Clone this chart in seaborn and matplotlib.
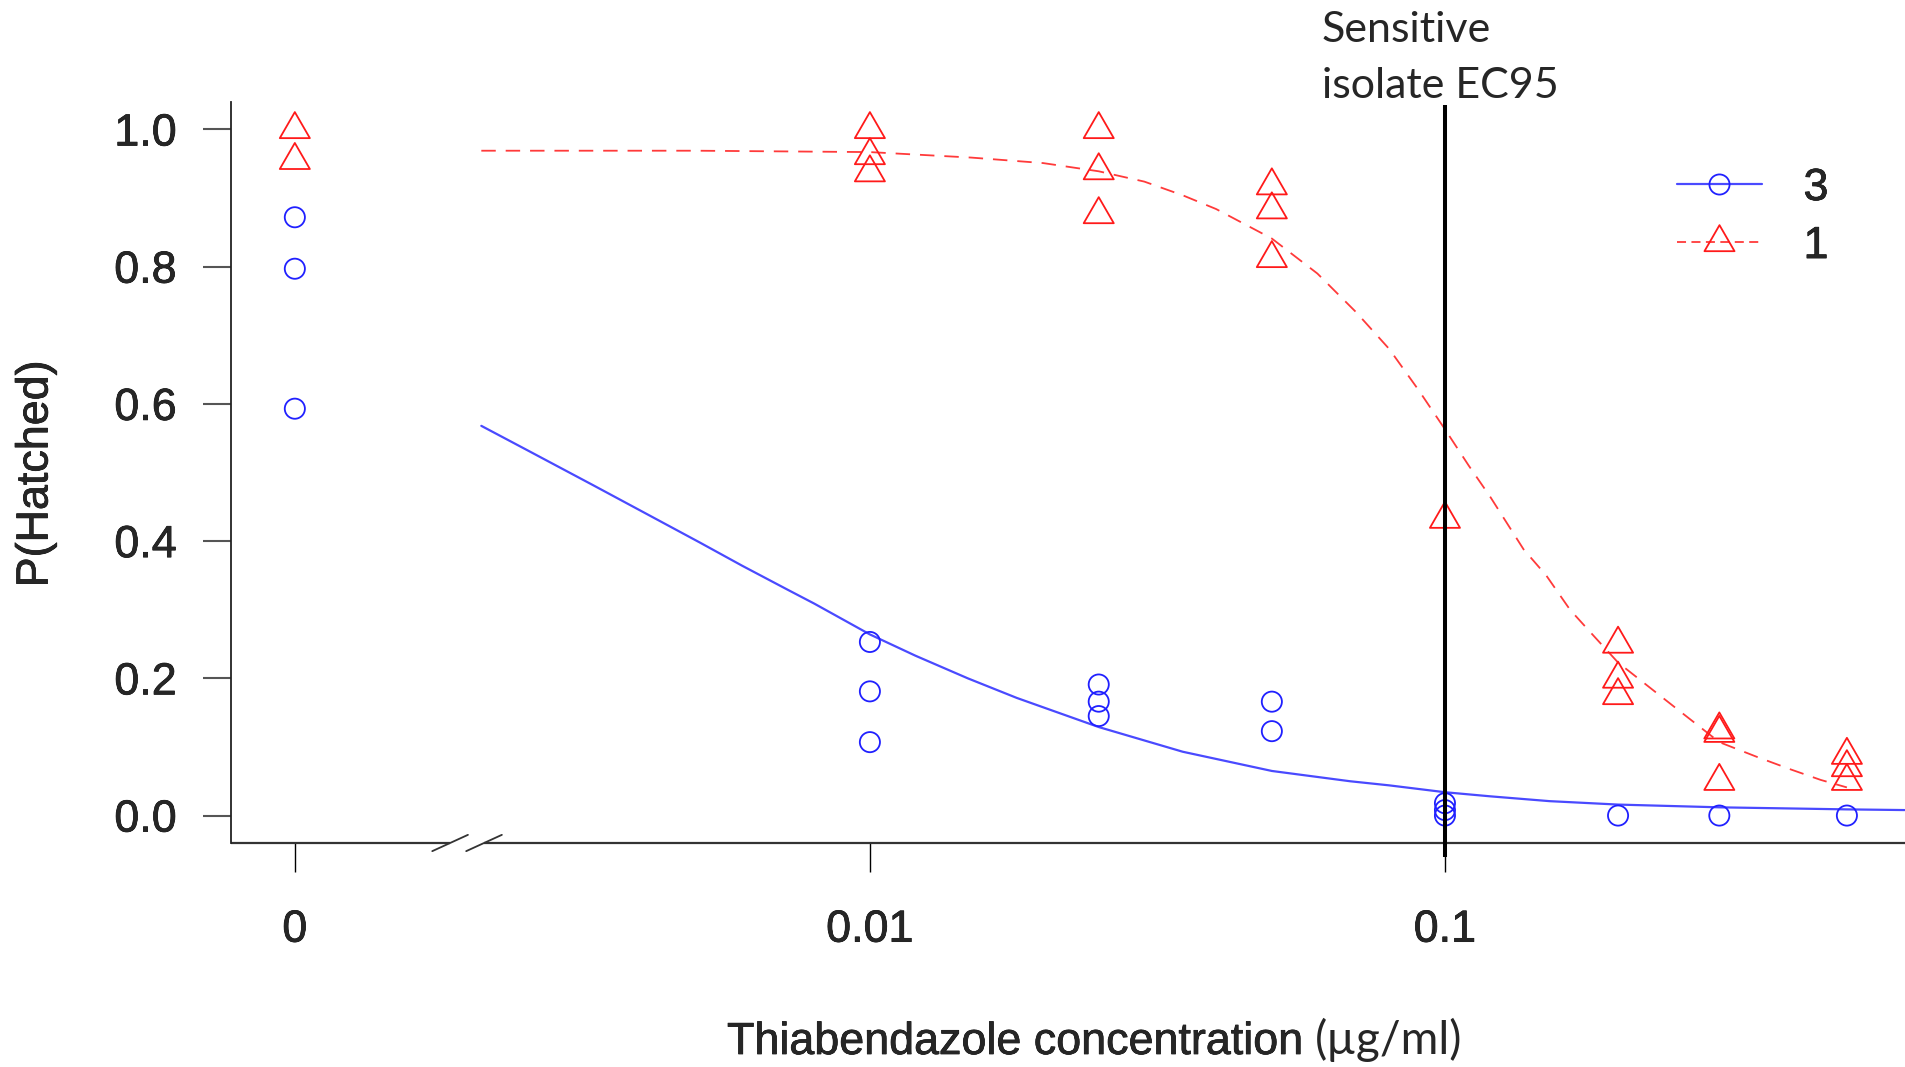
import numpy as np
import pandas as pd
import matplotlib
matplotlib.use("Agg")
import matplotlib.pyplot as plt
import matplotlib.patheffects as pe
from matplotlib.path import Path
from matplotlib.lines import Line2D
from matplotlib.ticker import NullLocator
import seaborn as sns

# ---- data ----------------------------------------------------------------
# isolate 3 (blue circles), dose in ug/ml, proportion hatched
iso3_dose = [0, 0, 0, 0.01, 0.01, 0.01, 0.025, 0.025, 0.025, 0.05, 0.05,
             0.1, 0.1, 0.1, 0.2, 0.3, 0.5]
iso3_hatch = [0.872, 0.797, 0.593, 0.253, 0.181, 0.107, 0.191, 0.166, 0.145,
              0.166, 0.123, 0.018, 0.008, 0.0, 0.0, 0.0, 0.0]

# isolate 1 (red triangles)
iso1_dose = [0, 0, 0.01, 0.01, 0.01, 0.025, 0.025, 0.025, 0.05, 0.05, 0.05,
             0.1, 0.2, 0.2, 0.2, 0.3, 0.3, 0.3, 0.5, 0.5, 0.5]
iso1_hatch = [1.0, 0.955, 1.0, 0.962, 0.937, 1.0, 0.94, 0.876, 0.918, 0.883,
              0.812, 0.432, 0.25, 0.199, 0.175, 0.125, 0.12, 0.05, 0.088,
              0.07, 0.05]

# fitted dose-response curves
curve3_dose = [0.00211, 0.00253, 0.00331, 0.004, 0.00506, 0.006, 0.0072,
               0.008, 0.01, 0.012, 0.0148, 0.018, 0.025, 0.035, 0.05,
               0.0684, 0.08, 0.1, 0.12, 0.152, 0.2, 0.3, 0.5, 0.63]
curve3_p = [0.568, 0.533, 0.481, 0.444, 0.398, 0.364, 0.329, 0.309, 0.264,
            0.233, 0.200, 0.1715, 0.129, 0.093, 0.065, 0.05, 0.044, 0.034,
            0.028, 0.021, 0.016, 0.012, 0.009, 0.008]

curve1_dose = [0.00211, 0.005, 0.01, 0.015, 0.02, 0.025, 0.03, 0.035, 0.04,
               0.05, 0.06, 0.07, 0.08, 0.09, 0.1, 0.11, 0.12, 0.137, 0.15,
               0.165, 0.18, 0.2, 0.25, 0.3, 0.35, 0.4, 0.45, 0.5]
curve1_p = [0.969, 0.969, 0.967, 0.959, 0.951, 0.939, 0.924, 0.904, 0.884,
            0.841, 0.79, 0.734, 0.68, 0.62, 0.563, 0.51, 0.464, 0.388, 0.35,
            0.30, 0.265, 0.223, 0.159, 0.107, 0.085, 0.067, 0.052, 0.041]

x_ticks = [0, 0.01, 0.1]
x_ticklabels = ["0", "0.01", "0.1"]
y_ticks = [0.0, 0.2, 0.4, 0.6, 0.8, 1.0]
legend_labels = ["3", "1"]
ec95 = 0.1
zero_pos = 0.001   # where dose 0 sits on the broken log axis

# ---- styling ----------------------------------------------------------------
sns.set_style("white")
plt.rcParams["font.family"] = ["Liberation Sans", "DejaVu Sans"]
BLUE_PT = "#2020ff"
BLUE_LN = "#4a4aff"
RED_PT = "#ff1a1a"
RED_LN = "#ff3a3a"
FS = 32.3
heavy = [pe.Stroke(linewidth=0.5, foreground="black"), pe.Normal()]

# R-style open triangle (pch = 2), centred like R does it
tri = Path([(0, 1.555), (1.347, -0.778), (-1.347, -0.778), (0, 1.555)],
           [Path.MOVETO, Path.LINETO, Path.LINETO, Path.CLOSEPOLY])

df3 = pd.DataFrame({"dose": iso3_dose, "p": iso3_hatch})
df1 = pd.DataFrame({"dose": iso1_dose, "p": iso1_hatch})
for d in (df3, df1):
    d["xpos"] = d["dose"].where(d["dose"] > 0, zero_pos)

W, H = 1905, 1067
fig = plt.figure(figsize=(W / 100, H / 100), dpi=100)
ax = fig.add_axes([231 / W, 1 - 843 / H, (W - 231) / W, (843 - 102) / H])
ax.set_xscale("log")

sns.lineplot(x=curve3_dose, y=curve3_p, color=BLUE_LN, lw=1.6, ax=ax)
sns.lineplot(x=curve1_dose, y=curve1_p, color=RED_LN, lw=1.3,
             linestyle=(0, (8, 5.5)), ax=ax)

sns.scatterplot(data=df3, x="xpos", y="p", marker="o", s=14.5 ** 2,
                color=BLUE_PT, facecolor="none", edgecolor=BLUE_PT,
                linewidth=1.3, ax=ax, zorder=3)
sns.scatterplot(data=df1, x="xpos", y="p", marker=tri, s=25 ** 2,
                color=RED_PT, facecolor="none", edgecolor=RED_PT,
                linewidth=1.3, ax=ax, zorder=3)

ax.set_xlim(10 ** -3.111, 10 ** -0.2)
ax.set_ylim(-0.04, 1.04)

# sensitive isolate EC95 line
ax.plot([ec95, ec95], [-0.06, 1.035], color="black", lw=2.9, clip_on=False,
        solid_capstyle="butt", zorder=4)

# axes: R "L" box with a broken x axis
for s in ["top", "right", "bottom"]:
    ax.spines[s].set_visible(False)
ax.spines["left"].set_color("#222222")
ax.spines["left"].set_linewidth(1.3)

xt = ax.get_xaxis_transform()
breaks = [10 ** -2.730, 10 ** -2.671]
lo, hi = ax.get_xlim()
ax.plot([lo, breaks[0]], [0, 0], color="#333333", lw=1.6, transform=xt,
        clip_on=False, solid_capstyle="butt")
ax.plot([breaks[1], hi], [0, 0], color="#333333", lw=1.6, transform=xt,
        clip_on=False, solid_capstyle="butt")
for b in breaks:
    ax.plot([b * 10 ** -0.031, b * 10 ** 0.031], [-0.011, 0.011],
            color="#333333", lw=1.3, transform=xt, clip_on=False)

ax.set_xticks([t if t > 0 else zero_pos for t in x_ticks])
ax.set_xticklabels(x_ticklabels)
ax.xaxis.set_minor_locator(NullLocator())
ax.set_yticks(y_ticks)
ax.set_yticklabels([f"{v:.1f}" for v in y_ticks])
ax.tick_params(axis="x", direction="out", length=21, width=1.0,
               color="black", pad=27, labelsize=FS, bottom=True)
ax.tick_params(axis="y", direction="out", length=20, width=1.5,
               color="#555555", pad=19, labelsize=FS, left=True)
for lab in ax.get_xticklabels() + ax.get_yticklabels():
    lab.set_path_effects(heavy)
ax.set_xlabel("")
ax.set_ylabel("")
ax.grid(False)

# axis titles
fig.text(36 / W, 1 - 474 / H, "P(Hatched)", rotation=90, ha="center",
         va="center", fontsize=FS, path_effects=heavy)
fig.text(727 / W, 1 - 1054 / H, "Thiabendazole concentration", ha="left",
         va="baseline", fontsize=FS, path_effects=heavy)
fig.text(1315 / W, 1 - 1054 / H, "(µg/ml)", ha="left", va="baseline",
         fontsize=33, family=["Lato", "DejaVu Sans"])

# annotation
fig.text(1322 / W, 1 - 42 / H, "Sensitive", ha="left", va="baseline",
         fontsize=31, family=["Lato", "DejaVu Sans"])
fig.text(1322 / W, 1 - 98 / H, "isolate EC95", ha="left", va="baseline",
         fontsize=31, family=["Lato", "DejaVu Sans"])

# legend
handles = [
    Line2D([], [], color=BLUE_LN, lw=1.6, marker="o", ms=14.5,
           mfc="none", mec=BLUE_PT, mew=1.3),
    Line2D([], [], color=RED_LN, lw=1.3, linestyle=(0, (5, 3)), marker=tri,
           ms=25, mfc="none", mec=RED_PT, mew=1.3),
]
leg = fig.legend(handles, legend_labels, loc="upper left",
                 bbox_to_anchor=(1677 / W, 1 - 168 / H), frameon=False,
                 fontsize=FS, handlelength=1.89, handletextpad=0.93,
                 labelspacing=0.38, borderpad=0, borderaxespad=0)
for t in leg.get_texts():
    t.set_path_effects(heavy)

fig.savefig("out.png", dpi=100)
